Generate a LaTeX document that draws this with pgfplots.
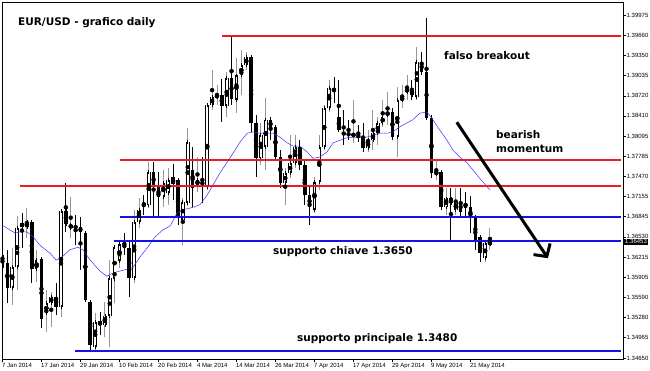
\documentclass[border=0pt]{standalone}
\usepackage{pgfplots}
\usepackage{pgfplotstable}
\pgfplotsset{compat=1.18}
\usetikzlibrary{arrows.meta}
\usepackage{fontspec}
\setmainfont{DejaVu Sans}
\newfontfamily\tickfont{Liberation Sans}
\definecolor{lred}{RGB}{236,28,36}
\definecolor{lblue}{RGB}{20,20,230}
\definecolor{mablue}{RGB}{50,50,255}
\definecolor{wickgray}{RGB}{150,150,150}

\pgfplotstableread{
x o h l c
2 1.3574 1.3636 1.3547 1.3606
3 1.3606 1.3686 1.3571 1.3667
5 1.3668 1.3698 1.3651 1.3676
7 1.3603 1.3633 1.3583 1.3617
9 1.3535 1.3571 1.3505 1.3550
10 1.3550 1.3567 1.3513 1.3560
12 1.3544 1.3695 1.3529 1.3693
14 1.3667 1.3715 1.3651 1.3672
19 1.3482 1.3535 1.3477 1.3521
21 1.3516 1.3552 1.3498 1.3530
22 1.3530 1.3617 1.3482 1.3589
23 1.3588 1.3640 1.3550 1.3637
24 1.3616 1.3648 1.3605 1.3642
27 1.3589 1.3695 1.3581 1.3676
28 1.3676 1.3713 1.3667 1.3695
30 1.3702 1.3769 1.3698 1.3754
33 1.3715 1.3757 1.3699 1.3737
34 1.3721 1.3760 1.3702 1.3741
37 1.3679 1.3713 1.3640 1.3707
38 1.3706 1.3822 1.3701 1.3800
40 1.3734 1.3777 1.3723 1.3741
42 1.3730 1.3858 1.3726 1.3858
43 1.3858 1.3912 1.3850 1.3870
44 1.3870 1.3889 1.3858 1.3873
46 1.3856 1.3909 1.3839 1.3900
48 1.3866 1.3931 1.3845 1.3904
49 1.3904 1.3943 1.3873 1.3920
50 1.3920 1.3940 1.3912 1.3932
53 1.3775 1.3830 1.3765 1.3811
54 1.3793 1.3869 1.3757 1.3835
58 1.3737 1.3760 1.3702 1.3752
59 1.3752 1.3811 1.3744 1.3768
60 1.3768 1.3811 1.3760 1.3793
64 1.3695 1.3746 1.3690 1.3738
65 1.3738 1.3811 1.3726 1.3793
66 1.3793 1.3858 1.3788 1.3853
67 1.3853 1.3897 1.3847 1.3884
72 1.3811 1.3866 1.3799 1.3812
75 1.3791 1.3819 1.3785 1.3803
76 1.3803 1.3850 1.3788 1.3814
77 1.3814 1.3839 1.3796 1.3830
78 1.3830 1.3866 1.3824 1.3839
79 1.3842 1.3878 1.3827 1.3847
81 1.3808 1.3886 1.3777 1.3866
82 1.3866 1.3889 1.3853 1.3869
83 1.3878 1.3904 1.3866 1.3883
85 1.3870 1.3948 1.3866 1.3925
89 1.3751 1.3772 1.3741 1.3754
91 1.3699 1.3729 1.3687 1.3713
93 1.3695 1.3729 1.3687 1.3706
99 1.3620 1.3648 1.3614 1.3643
100 1.3642 1.3667 1.3633 1.3645
}\bull

\pgfplotstableread{
x o h l c
0 1.3625 1.3653 1.3586 1.3605
1 1.3612 1.3633 1.3550 1.3574
4 1.3675 1.3690 1.3636 1.3668
6 1.3676 1.3679 1.3581 1.3603
8 1.3619 1.3620 1.3512 1.3526
11 1.3560 1.3581 1.3532 1.3544
13 1.3693 1.3737 1.3661 1.3673
15 1.3670 1.3687 1.3640 1.3667
16 1.3668 1.3684 1.3602 1.3661
17 1.3659 1.3661 1.3552 1.3555
18 1.3552 1.3552 1.3477 1.3485
20 1.3522 1.3536 1.3501 1.3516
25 1.3642 1.3659 1.3625 1.3636
26 1.3636 1.3645 1.3560 1.3589
29 1.3706 1.3718 1.3687 1.3702
31 1.3754 1.3769 1.3684 1.3730
32 1.3730 1.3754 1.3684 1.3715
35 1.3746 1.3767 1.3710 1.3735
36 1.3741 1.3744 1.3672 1.3684
39 1.3757 1.3793 1.3699 1.3729
41 1.3743 1.3777 1.3706 1.3730
45 1.3873 1.3898 1.3831 1.3856
47 1.3900 1.3963 1.3858 1.3867
51 1.3932 1.3932 1.3816 1.3830
52 1.3830 1.3842 1.3746 1.3775
55 1.3835 1.3839 1.3803 1.3822
56 1.3824 1.3827 1.3772 1.3777
57 1.3777 1.3788 1.3729 1.3737
61 1.3793 1.3803 1.3757 1.3765
62 1.3765 1.3772 1.3702 1.3718
63 1.3718 1.3734 1.3672 1.3699
68 1.3883 1.3901 1.3861 1.3880
69 1.3839 1.3897 1.3816 1.3819
70 1.3814 1.3850 1.3796 1.3813
71 1.3813 1.3835 1.3803 1.3812
73 1.3811 1.3827 1.3800 1.3808
74 1.3808 1.3830 1.3785 1.3791
80 1.3847 1.3853 1.3803 1.3808
84 1.3881 1.3897 1.3866 1.3873
86 1.3925 1.3940 1.3904 1.3909
87 1.3909 1.3993 1.3835 1.3838
88 1.3838 1.3842 1.3744 1.3752
90 1.3754 1.3754 1.3695 1.3699
92 1.3713 1.3729 1.3648 1.3706
94 1.3707 1.3729 1.3682 1.3692
95 1.3706 1.3723 1.3682 1.3698
96 1.3699 1.3717 1.3659 1.3682
97 1.3682 1.3687 1.3633 1.3648
98 1.3653 1.3656 1.3614 1.3628
}\bear

\pgfplotstableread{
x y
0 1.3671
1.5 1.3664
2.6 1.3659
3.6 1.3661
5 1.3661
6.3 1.3653
7.7 1.3640
9.7 1.3628
11 1.3617
12.4 1.3623
13.8 1.3633
15.5 1.3637
16.5 1.3633
18 1.3617
20 1.3600
21.4 1.3592
22.7 1.3597
24.1 1.3600
25.7 1.3603
26.8 1.3606
28.2 1.3622
29.8 1.3637
31.3 1.3653
32.9 1.3664
34.4 1.3670
35.8 1.3690
37 1.3695
39.1 1.3699
40.5 1.3703
42 1.3718
43.2 1.3734
44.6 1.3752
46 1.3768
47.3 1.3783
48.7 1.3800
50.2 1.3814
51.4 1.3816
52.8 1.3814
54.3 1.3814
55.5 1.3814
56.9 1.3808
58.4 1.3799
59.6 1.3794
61 1.3794
62.5 1.3785
63.7 1.3775
65.1 1.3777
66.6 1.3785
67.8 1.3799
69.2 1.3803
70.7 1.3807
73.3 1.3807
74.8 1.3808
76 1.3811
77.4 1.3814
78.9 1.3814
80.1 1.3816
81.5 1.3824
83 1.3830
84.2 1.3835
85.6 1.3845
87.1 1.3847
88.3 1.3835
89.7 1.3819
91.2 1.3803
92.4 1.3788
93.8 1.3777
95.3 1.3768
96.5 1.3757
97.9 1.3744
100 1.3726
}\ma

\begin{document}
\begin{tikzpicture}
\path[use as bounding box] (0,0) rectangle (650pt,371pt);
\begin{axis}[
  at={(2pt,12pt)}, anchor=south west,
  scale only axis, width=621pt, height=357pt,
  xmin=-0.1, xmax=127.3, ymin=1.34635, ymax=1.40177,
  axis line style={line width=0.8pt, black},
  ytick={1.39975,1.39660,1.39350,1.39035,1.38720,1.38410,1.38095,1.37785,1.37470,1.37155,1.36845,1.36530,1.36215,1.35905,1.35590,1.35280,1.34965,1.34650},
  yticklabels={1.39975,1.39660,1.39350,1.39035,1.38720,1.38410,1.38095,1.37785,1.37470,1.37155,1.36845,1.36530,1.36215,1.35905,1.35590,1.35280,1.34965,1.34650},
  yticklabel pos=right, ytick pos=right,
  xtick={0,8,16,24,32,40,48,56,64,72,80,88,96},
  xticklabels={7 Jan 2014,17 Jan 2014,29 Jan 2014,10 Feb 2014,20 Feb 2014,4 Mar 2014,14 Mar 2014,26 Mar 2014,7 Apr 2014,17 Apr 2014,29 Apr 2014,9 May 2014,21 May 2014},
  xtick pos=bottom,
  tick align=outside, major tick length=3pt,
  tick style={black, line width=0.5pt},
  ticklabel style={font=\tickfont\fontsize{6}{7}\selectfont},
  xticklabel style={anchor=north west, inner sep=0pt, yshift=-1pt, xshift=-0.5pt},
  yticklabel style={anchor=west, inner sep=0pt, xshift=0.5pt},
]
% wicks
\addplot[only marks, mark=none, error bars/.cd, y dir=both, y explicit, error mark=none,
  error bar style={line width=0.9pt, draw=wickgray}]
  table[x=x, y expr={(\thisrow{h}+\thisrow{l})/2}, y error expr={(\thisrow{h}-\thisrow{l})/2}] {\bull};
\addplot[only marks, mark=none, error bars/.cd, y dir=both, y explicit, error mark=none,
  error bar style={line width=0.9pt, draw=black}]
  table[x=x, y expr={(\thisrow{h}+\thisrow{l})/2}, y error expr={(\thisrow{h}-\thisrow{l})/2}] {\bear};
% bear bodies
\addplot[only marks, mark=none, error bars/.cd, y dir=both, y explicit, error mark=-,
  error mark options={draw=black, mark size=1.8pt, line width=0.7pt},
  error bar style={line width=3.6pt, draw=black}]
  table[x=x, y expr={(\thisrow{o}+\thisrow{c})/2}, y error expr={abs(\thisrow{o}-\thisrow{c})/2}] {\bear};
% bull bodies
\addplot[only marks, mark=none, error bars/.cd, y dir=both, y explicit, error mark=none,
  error bar style={line width=3.6pt, draw=black}]
  table[x=x, y expr={(\thisrow{o}+\thisrow{c})/2}, y error expr={(\thisrow{c}-\thisrow{o})/2}] {\bull};
\addplot[only marks, mark=none, error bars/.cd, y dir=both, y explicit, error mark=-,
  error mark options={draw=black, mark size=1.8pt, line width=0.7pt},
  error bar style={line width=1.8pt, draw=white}]
  table[x=x, y expr={(\thisrow{o}+\thisrow{c})/2}, y error expr={(\thisrow{c}-\thisrow{o})/2}] {\bull};
% moving average
\addplot[mablue, line width=0.5pt, mark=none] table[x=x, y=y] {\ma};
% levels
\addplot[lred, line width=2pt, mark=none] coordinates {(45.0,1.39654) (126.9,1.39654)};
\addplot[lred, line width=2pt, mark=none] coordinates {(24.1,1.37728) (126.9,1.37728)};
\addplot[lred, line width=2pt, mark=none] coordinates {(3.6,1.37325) (126.9,1.37325)};
\addplot[lblue, line width=2pt, mark=none] coordinates {(24.1,1.36834) (126.9,1.36834)};
\addplot[lblue, line width=2pt, mark=none] coordinates {(22.9,1.36471) (126.9,1.36471)};
\addplot[lblue, line width=2pt, mark=none] coordinates {(14.9,1.34763) (126.9,1.34763)};
% arrow
\draw[line width=3pt, -{Straight Barb[length=9pt,width=20pt,line width=3pt]}]
  (axis cs:93.2,1.3831) -- (axis cs:111.9,1.3620);
\end{axis}
\begin{scope}[font=\bfseries\fontsize{10.5}{12}\selectfont]
\node[anchor=base west, inner sep=0pt] at (18pt,345pt) {EUR/USD - grafico daily};
\node[anchor=base west, inner sep=0pt] at (444pt,311pt) {falso breakout};
\node[anchor=base west, inner sep=0pt] at (496pt,232pt) {bearish};
\node[anchor=base west, inner sep=0pt] at (496pt,218pt) {momentum};
\node[anchor=base west, inner sep=0pt] at (273pt,116pt) {supporto chiave 1.3650};
\node[anchor=base west, inner sep=0pt] at (297pt,29pt) {supporto principale 1.3480};
\end{scope}
\node[anchor=west, fill=black, text=white, inner xsep=1pt, inner ysep=1pt,
  font=\tickfont\fontsize{6}{7}\selectfont] at (624pt,129.1pt) {1.36453};
\end{tikzpicture}
\end{document}
